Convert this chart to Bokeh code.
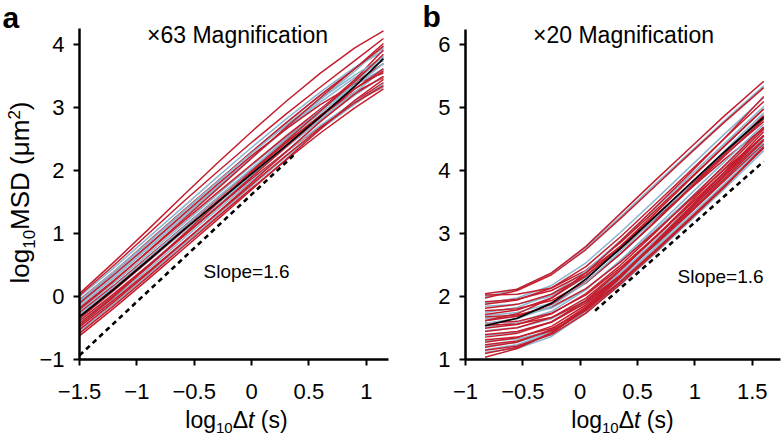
from math import pi
from bokeh.plotting import figure
from bokeh.layouts import row
from bokeh.models import Label, Range1d, FixedTicker, ColumnDataSource, LinearAxis
from bokeh.embed import file_html
from bokeh.resources import INLINE

# ---------------- data ----------------
# Panel a (x63 magnification)
x_a = [-1.5, -1.2, -0.9, -0.6, -0.3, 0.0, 0.3, 0.6, 0.9, 1.15]
red_a = [
    [0.05, 0.55, 1.07, 1.60, 2.12, 2.62, 3.10, 3.55, 3.95, 4.22],
    [0.02, 0.50, 1.00, 1.50, 1.98, 2.45, 2.90, 3.33, 3.75, 4.10],
    [-0.05, 0.40, 0.88, 1.36, 1.83, 2.30, 2.76, 3.20, 3.62, 4.02],
    [-0.10, 0.35, 0.82, 1.30, 1.78, 2.24, 2.66, 3.05, 3.38, 3.55],
    [-0.18, 0.26, 0.72, 1.19, 1.65, 2.10, 2.55, 2.98, 3.40, 3.70],
    [-0.25, 0.18, 0.64, 1.10, 1.56, 2.01, 2.45, 2.87, 3.25, 3.48],
    [-0.30, 0.14, 0.60, 1.08, 1.55, 2.02, 2.50, 2.97, 3.45, 3.92],
    [-0.38, 0.05, 0.50, 0.96, 1.42, 1.87, 2.30, 2.70, 3.10, 3.40],
    [-0.42, 0.02, 0.48, 0.95, 1.42, 1.90, 2.38, 2.85, 3.30, 3.62],
    [-0.48, -0.05, 0.40, 0.86, 1.32, 1.78, 2.24, 2.68, 3.08, 3.35],
    [-0.52, -0.08, 0.38, 0.85, 1.33, 1.81, 2.30, 2.78, 3.22, 3.50],
    [-0.58, -0.14, 0.32, 0.79, 1.26, 1.72, 2.17, 2.60, 3.00, 3.30],
    [-0.62, -0.18, 0.28, 0.75, 1.22, 1.70, 2.18, 2.66, 3.12, 3.45],
    [-0.45, 0.00, 0.48, 0.98, 1.48, 1.98, 2.47, 2.95, 3.42, 3.85],
    [-0.20, 0.25, 0.73, 1.22, 1.71, 2.20, 2.69, 3.16, 3.62, 3.98],
    [-0.35, 0.10, 0.57, 1.04, 1.51, 1.98, 2.44, 2.88, 3.30, 3.58],
]
blue_a = [
    [0.00, 0.46, 0.94, 1.42, 1.90, 2.37, 2.82, 3.25, 3.64, 3.90],
    [-0.08, 0.38, 0.86, 1.34, 1.82, 2.29, 2.75, 3.20, 3.62, 3.95],
    [-0.12, 0.33, 0.80, 1.28, 1.75, 2.21, 2.66, 3.09, 3.48, 3.75],
    [-0.15, 0.30, 0.77, 1.25, 1.73, 2.20, 2.67, 3.13, 3.58, 3.98],
    [-0.22, 0.22, 0.68, 1.15, 1.62, 2.08, 2.53, 2.96, 3.36, 3.62],
    [-0.27, 0.17, 0.63, 1.10, 1.57, 2.03, 2.48, 2.92, 3.34, 3.70],
    [-0.33, 0.11, 0.56, 1.02, 1.48, 1.93, 2.37, 2.80, 3.20, 3.50],
    [-0.40, 0.04, 0.50, 0.97, 1.44, 1.91, 2.37, 2.82, 3.25, 3.60],
    [-0.46, -0.02, 0.44, 0.91, 1.38, 1.84, 2.29, 2.72, 3.10, 3.33],
    [-0.55, -0.11, 0.35, 0.82, 1.29, 1.76, 2.22, 2.66, 3.06, 3.38],
    [-0.06, 0.40, 0.87, 1.35, 1.82, 2.28, 2.72, 3.14, 3.52, 3.80],
    [-0.28, 0.16, 0.62, 1.09, 1.56, 2.03, 2.50, 2.96, 3.40, 3.82],
]
mean_a = [-0.32, 0.12, 0.58, 1.05, 1.50, 1.95, 2.40, 2.86, 3.34, 3.78]
slope_a_x = [-1.5, 0.38]
slope_a_y = [-0.93, 2.27]

# Panel b (x20 magnification)
x_b = [-0.83, -0.55, -0.25, 0.05, 0.35, 0.65, 0.95, 1.25, 1.6]
red_b = [
    [2.05, 2.12, 2.38, 2.80, 3.32, 3.84, 4.35, 4.86, 5.42],
    [2.03, 2.04, 2.14, 2.42, 2.86, 3.36, 3.87, 4.38, 4.98],
    [1.98, 2.10, 2.35, 2.75, 3.24, 3.75, 4.26, 4.76, 5.32],
    [1.92, 1.96, 2.10, 2.38, 2.80, 3.28, 3.76, 4.24, 4.78],
    [1.88, 1.95, 2.14, 2.48, 2.95, 3.46, 3.98, 4.50, 5.10],
    [1.82, 1.88, 2.04, 2.34, 2.76, 3.23, 3.70, 4.17, 4.68],
    [1.78, 1.81, 1.94, 2.24, 2.68, 3.18, 3.70, 4.22, 4.82],
    [1.72, 1.79, 1.98, 2.33, 2.80, 3.32, 3.85, 4.38, 4.98],
    [1.68, 1.71, 1.84, 2.13, 2.55, 3.03, 3.52, 4.01, 4.55],
    [1.62, 1.69, 1.88, 2.22, 2.68, 3.19, 3.72, 4.25, 4.88],
    [1.58, 1.61, 1.74, 2.03, 2.46, 2.95, 3.45, 3.96, 4.55],
    [1.55, 1.57, 1.67, 1.93, 2.34, 2.82, 3.32, 3.83, 4.42],
    [1.50, 1.56, 1.73, 2.05, 2.50, 3.01, 3.54, 4.07, 4.70],
    [1.45, 1.51, 1.67, 1.98, 2.43, 2.93, 3.45, 3.97, 4.56],
    [1.40, 1.45, 1.60, 1.90, 2.34, 2.83, 3.34, 3.86, 4.48],
    [1.36, 1.42, 1.60, 1.94, 2.42, 2.94, 3.48, 4.02, 4.66],
    [1.32, 1.36, 1.50, 1.80, 2.24, 2.73, 3.24, 3.75, 4.36],
    [1.28, 1.35, 1.53, 1.87, 2.34, 2.85, 3.38, 3.92, 4.56],
    [1.24, 1.30, 1.46, 1.78, 2.23, 2.72, 3.22, 3.73, 4.38],
    [1.20, 1.28, 1.48, 1.84, 2.33, 2.86, 3.41, 3.96, 4.62],
    [1.15, 1.22, 1.40, 1.74, 2.20, 2.70, 3.21, 3.73, 4.38],
    [1.10, 1.20, 1.42, 1.80, 2.30, 2.84, 3.38, 3.92, 4.56],
    [1.04, 1.18, 1.43, 1.82, 2.32, 2.85, 3.38, 3.90, 4.50],
    [1.62, 1.73, 1.98, 2.38, 2.88, 3.41, 3.95, 4.50, 5.18],
]
blue_b = [
    [2.00, 2.12, 2.38, 2.78, 3.27, 3.78, 4.28, 4.78, 5.35],
    [1.90, 1.98, 2.18, 2.54, 3.02, 3.53, 4.05, 4.57, 5.16],
    [1.85, 1.88, 2.01, 2.31, 2.75, 3.24, 3.75, 4.26, 4.86],
    [1.75, 1.83, 2.04, 2.41, 2.89, 3.40, 3.91, 4.42, 5.02],
    [1.70, 1.75, 1.90, 2.22, 2.68, 3.19, 3.71, 4.23, 4.84],
    [1.65, 1.69, 1.82, 2.12, 2.56, 3.05, 3.55, 4.06, 4.66],
    [1.52, 1.59, 1.77, 2.11, 2.58, 3.09, 3.61, 4.13, 4.74],
    [1.46, 1.51, 1.65, 1.95, 2.38, 2.86, 3.36, 3.86, 4.44],
    [1.38, 1.44, 1.60, 1.92, 2.38, 2.89, 3.41, 3.93, 4.56],
    [1.30, 1.33, 1.46, 1.75, 2.19, 2.68, 3.19, 3.70, 4.32],
    [1.22, 1.28, 1.44, 1.78, 2.26, 2.78, 3.31, 3.84, 4.48],
    [1.16, 1.24, 1.43, 1.80, 2.29, 2.82, 3.36, 3.90, 4.54],
    [1.12, 1.18, 1.37, 1.74, 2.23, 2.75, 3.27, 3.78, 4.40],
    [1.58, 1.65, 1.85, 2.23, 2.72, 3.24, 3.77, 4.30, 4.92],
]
mean_b = [1.54, 1.66, 1.90, 2.28, 2.77, 3.27, 3.78, 4.29, 4.85]
slope_b_x = [0.13, 1.6]
slope_b_y = [1.78, 4.15]

ticks_a_x = [-1.5, -1, -0.5, 0, 0.5, 1]
ticks_a_y = [-1, 0, 1, 2, 3, 4]
ticks_b_x = [-1, -0.5, 0, 0.5, 1, 1.5]
ticks_b_y = [1, 2, 3, 4, 5, 6]
axis_a_x = (-1.5, 1.19)
axis_a_y = (-1, 4.26)
axis_b_x = (-1, 1.75)
axis_b_y = (1, 6.25)

title_a = "\u00d763 Magnification"
title_b = "\u00d720 Magnification"
slope_text = "Slope=1.6"

# ---------------- style / layout ----------------
FONT = "Liberation Sans"
RED = "#c41e2e"
BLUE = "#8ab6d0"
FIG_TOP, FIG_H = 0, 440
PX_X, PX_Y = 114.7, 63.0
ORIGIN_Y = 359.3
BASE_K = 0.36  # empirical baseline correction (fraction of font size)

ADV = {"l": 222, "o": 556, "g": 556, "1": 556, "0": 556, "2": 556, "\u0394": 668,
       "t": 278, " ": 278, "(": 333, ")": 333, "s": 500, "M": 833, "S": 667,
       "D": 722, "\u03bc": 576, "m": 833}


def tw(s, size):
    return sum(ADV.get(c, 556) for c in s) / 1000.0 * size


def fmt(v):
    return ("%g" % v).replace("-", "\u2212")


class Panel:
    def __init__(self, fig_left, fig_w, origin_x, axis_x, axis_y, xt, yt):
        self.left = fig_left
        x0, y0 = axis_x[0], axis_y[0]
        xs = x0 - (origin_x - fig_left) / PX_X
        ys = y0 - (FIG_TOP + FIG_H - ORIGIN_Y) / PX_Y
        p = figure(width=fig_w, height=FIG_H,
                   x_range=Range1d(xs, xs + fig_w / PX_X),
                   y_range=Range1d(ys, ys + FIG_H / PX_Y),
                   x_axis_type=None, y_axis_type=None,
                   output_backend="svg", toolbar_location=None,
                   min_border=0, min_border_left=0, min_border_right=0,
                   min_border_top=0, min_border_bottom=0)
        p.grid.visible = False
        p.outline_line_color = None
        xa = LinearAxis(fixed_location=y0, bounds=axis_x)
        ya = LinearAxis(fixed_location=x0, bounds=axis_y)
        for ax, ticks in ((xa, xt), (ya, yt)):
            ax.ticker = FixedTicker(ticks=ticks)
            ax.major_label_overrides = {t: fmt(t) for t in ticks}
            ax.axis_line_width = 2.5
            ax.axis_line_color = "black"
            ax.major_tick_line_width = 2
            ax.major_tick_line_color = "black"
            ax.major_tick_out = 6
            ax.major_tick_in = 0
            ax.minor_tick_out = 0
            ax.minor_tick_in = 0
            ax.major_label_text_font = FONT
            ax.major_label_text_font_size = "22px"
            ax.major_label_text_color = "black"
        xa.major_label_standoff = 18
        ya.major_label_standoff = 9
        p.add_layout(xa, "below")
        p.add_layout(ya, "left")
        self.p = p

    def lab(self, text, px, py, size, style="normal", align="left", angle=0.0):
        if angle:
            px -= BASE_K * size
        else:
            py -= BASE_K * size
        self.p.add_layout(Label(x=px - self.left, y=FIG_TOP + FIG_H - py,
                                x_units="screen", y_units="screen", text=text,
                                text_font=FONT, text_font_size="%gpx" % size,
                                text_font_style=style, text_align=align,
                                text_baseline="alphabetic", text_color="black",
                                angle=angle))

    def hlabel(self, pieces, cx, base_y):
        total = sum(tw(t, s) for t, s, d, st in pieces)
        x = cx - total / 2.0
        for t, s, d, st in pieces:
            lead = len(t) - len(t.lstrip(" "))
            x += tw(" " * lead, s)
            self.lab(t.lstrip(" "), x, base_y + d, s, st)
            x += tw(t.lstrip(" "), s)

    def vlabel(self, pieces, cy, base_x):
        total = sum(tw(t, s) for t, s, d, st in pieces)
        y = cy + total / 2.0
        for t, s, d, st in pieces:
            lead = len(t) - len(t.lstrip(" "))
            y -= tw(" " * lead, s)
            self.lab(t.lstrip(" "), base_x + d, y, s, st, angle=pi / 2)
            y -= tw(t.lstrip(" "), s)

    def curves(self, xs, reds, blues, mean, sx, sy):
        xx, yy, cc = [], [], []
        for i in range(max(len(reds), len(blues))):
            if i < len(blues):
                xx.append(xs); yy.append(blues[i]); cc.append(BLUE)
            if i < len(reds):
                xx.append(xs); yy.append(reds[i]); cc.append(RED)
        src = ColumnDataSource(dict(xs=xx, ys=yy, c=cc))
        self.p.multi_line("xs", "ys", line_color="c", line_width=1.5,
                          line_join="round", source=src)
        self.p.line(xs, mean, line_color="black", line_width=1.7, line_join="round")
        self.p.line(sx, sy, line_color="black", line_width=2.6, line_dash="5 4")


xl = [("log", 23, 0, "normal"), ("10", 15, 5, "normal"), ("\u0394", 23, 0, "normal"),
      ("t", 23, 0, "italic"), (" (s)", 23, 0, "normal")]
yl = [("log", 26, 0, "normal"), ("10", 17, 6, "normal"), ("MSD (\u03bcm", 26, 0, "normal"),
      ("2", 17, -9, "normal"), (")", 26, 0, "normal")]

# Panel a
A = Panel(0, 390, 79, axis_a_x, axis_a_y, ticks_a_x, ticks_a_y)
A.curves(x_a, red_a, blue_a, mean_a, slope_a_x, slope_a_y)
A.lab(title_a, 237, 43, 23, align="center")
A.lab(slope_text, 203, 278, 19)
A.lab("a", 2, 28, 30, style="bold")
A.hlabel(xl, 236, 428)
A.vlabel(yl, 192, 29)

# Panel b
B = Panel(390, 391, 465, axis_b_x, axis_b_y, ticks_b_x, ticks_b_y)
B.curves(x_b, red_b, blue_b, mean_b, slope_b_x, slope_b_y)
B.lab(title_b, 623, 43, 23, align="center")
B.lab(slope_text, 677, 283, 19)
B.lab("b", 422, 27, 30, style="bold")
B.hlabel(xl, 622, 428)

layout = row(A.p, B.p)
open("out.html", "w").write(file_html(layout, INLINE))
